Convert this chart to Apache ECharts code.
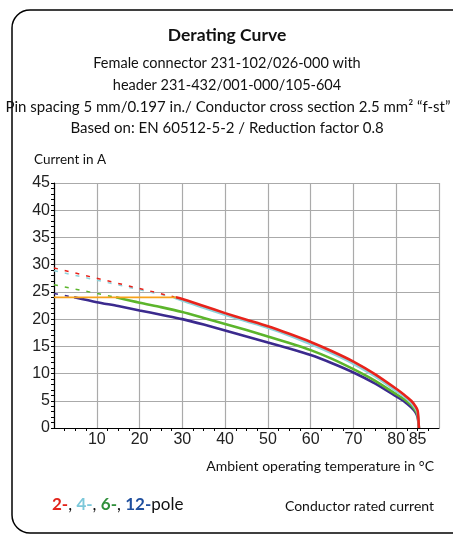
<!DOCTYPE html>
<html>
<head>
<meta charset="utf-8">
<script src="https://cdn.jsdelivr.net/npm/echarts@6/dist/echarts.min.js"></script>
<style>
  html, body { margin: 0; padding: 0; background: #fff; }
  #chart { width: 453px; height: 536px; }
</style>
</head>
<body>
<div id="chart"></div>
<script>
// Ambient temperature tick labels (°C)
var xTickLabels = [10, 20, 30, 40, 50, 60, 70, 80, 85];

// Solid derating curves per pole count: [temperature °C, current A]
var curve2pole  = [[28.5, 24], [30, 23.7], [35, 22.4], [40, 21.1], [45, 19.9], [50, 18.7], [55, 17.3], [60, 15.8], [65, 14.1], [70, 12.2], [75, 9.9], [80, 7.2], [82, 6.0], [83.5, 5.0], [84.5, 4.0], [85, 3.2], [85.2, 1.5], [85.3, 0]];
var curve4pole  = [[28, 24], [30, 23.4], [35, 22.1], [40, 20.8], [45, 19.6], [50, 18.4], [55, 17.0], [60, 15.4], [65, 13.7], [70, 11.8], [75, 9.5], [80, 6.8], [82, 5.7], [83.5, 4.6], [84.5, 3.6], [85, 2.8], [85.2, 1.3], [85.3, 0]];
var curve6pole  = [[14.5, 24], [20, 23.0], [25, 22.2], [30, 21.3], [35, 20.2], [40, 19.1], [45, 18.0], [50, 16.8], [55, 15.6], [60, 14.3], [65, 12.7], [70, 10.8], [75, 8.7], [80, 6.2], [82, 5.2], [83.5, 4.2], [84.5, 3.2], [85, 2.4], [85.2, 1.1], [85.3, 0]];
var curve12pole = [[4.7, 24], [10, 23.1], [15, 22.4], [20, 21.6], [25, 20.8], [30, 20.0], [35, 19.0], [40, 17.9], [45, 16.8], [50, 15.7], [55, 14.6], [60, 13.4], [65, 11.9], [70, 10.2], [75, 8.2], [80, 5.8], [82, 4.8], [83.5, 3.8], [84.5, 2.9], [85, 2.0], [85.2, 0.9], [85.3, 0]];

// Dashed extensions above the conductor rated current
var dash2pole  = [[0, 29.4], [28.5, 24]];
var dash4pole  = [[0, 28.9], [28, 24]];
var dash6pole  = [[0, 26.3], [14.5, 24]];
var dash12pole = [[0, 24.7], [4.7, 24]];

// Conductor rated current
var ratedCurrent = [[0, 24], [28.5, 24]];

var RED = '#e8231b', CYAN = '#8dd3dc', GREEN = '#5cb52b', INDIGO = '#3b2a8e', ORANGE = '#f7a21b';
var TXT = "'Lato', 'Liberation Sans', sans-serif";
var NUM = "'Liberation Sans', Arial, sans-serif";

function solid(data, color) {
  return { type: 'line', data: data, showSymbol: false, smooth: 0.25, silent: true,
           lineStyle: { color: color, width: 2.6 }, z: 3 };
}
function dashed(data, color) {
  return { type: 'line', data: data, showSymbol: false, silent: true,
           lineStyle: { color: color, width: 1.5, type: [4, 7] }, z: 2 };
}
function label(text, x, y, size, align, weight) {
  return { type: 'text', x: x, y: y, silent: true, style: { text: text,
           font: (weight || 'normal') + ' ' + size + 'px ' + TXT, fill: '#111',
           textAlign: align, textVerticalAlign: 'middle' } };
}

var chart = echarts.init(document.getElementById('chart'), null, { renderer: 'canvas' });
chart.setOption({
  animation: false,
  backgroundColor: '#fff',
  grid: { left: 54, right: 14, top: 183, bottom: 108 },
  xAxis: {
    type: 'value', min: 0, max: 90, interval: 10,
    axisLine: { lineStyle: { color: '#000', width: 1.2 } },
    axisTick: { show: false },
    minorTick: { show: true, splitNumber: 4, length: 3, lineStyle: { color: '#000' } },
    splitLine: { show: true, lineStyle: { color: '#aaaaaa', width: 1.2 } },
    axisLabel: { customValues: xTickLabels, color: '#222', fontSize: 16, fontFamily: NUM, margin: 4 }
  },
  yAxis: {
    type: 'value', min: 0, max: 45, interval: 5,
    axisLine: { show: true, lineStyle: { color: '#000', width: 1.2 } },
    axisTick: { show: true, length: 3, lineStyle: { color: '#000' } },
    minorTick: { show: true, splitNumber: 5, length: 3, lineStyle: { color: '#000' } },
    splitLine: { show: true, lineStyle: { color: '#aaaaaa', width: 1.2 } },
    axisLabel: { color: '#222', fontSize: 16, fontFamily: NUM, margin: 4 }
  },
  series: [
    dashed(dash12pole, INDIGO),
    dashed(dash6pole, GREEN),
    dashed(dash4pole, CYAN),
    dashed(dash2pole, RED),
    { type: 'line', data: ratedCurrent, showSymbol: false, silent: true,
      lineStyle: { color: ORANGE, width: 1.6 }, z: 4 },
    solid(curve12pole, INDIGO),
    solid(curve6pole, GREEN),
    solid(curve4pole, CYAN),
    solid(curve2pole, RED)
  ],
  graphic: [
    { type: 'rect', shape: { x: 12, y: 10, width: 460, height: 523, r: 18 },
      style: { fill: 'none', stroke: '#000', lineWidth: 1.5 }, silent: true },
    label('Derating Curve', 227, 35, 17.5, 'center', 'bold'),
    label('Female connector 231-102/026-000 with', 227, 63, 14.5, 'center'),
    label('header 231-432/001-000/105-604', 227, 85, 14.5, 'center'),
    label('Pin spacing 5 mm/0.197 in./ Conductor cross section 2.5 mm\u00b2 \u201cf-st\u201d', 228, 107, 15, 'center'),
    label('Based on: EN 60512-5-2 / Reduction factor 0.8', 227, 128, 15, 'center'),
    label('Current in A', 34, 160, 13.5, 'left'),
    label('Ambient operating temperature in \u00b0C', 434, 466, 14, 'right'),
    label('Conductor rated current', 434, 506, 14, 'right'),
    { type: 'text', x: 52, y: 505, silent: true, style: {
      text: '{r|2-}{k|, }{c|4-}{k|, }{g|6-}{k|, }{b|12-}{k|pole}',
      textAlign: 'left', textVerticalAlign: 'middle',
      rich: {
        r: { fill: '#e2231a', font: "bold 17px " + TXT },
        c: { fill: '#7cc8da', font: "bold 17px " + TXT },
        g: { fill: '#2f8f3a', font: "bold 17px " + TXT },
        b: { fill: '#1f4f9e', font: "bold 17px " + TXT },
        k: { fill: '#111', font: "17px " + TXT }
      } } }
  ]
});
</script>
</body>
</html>
